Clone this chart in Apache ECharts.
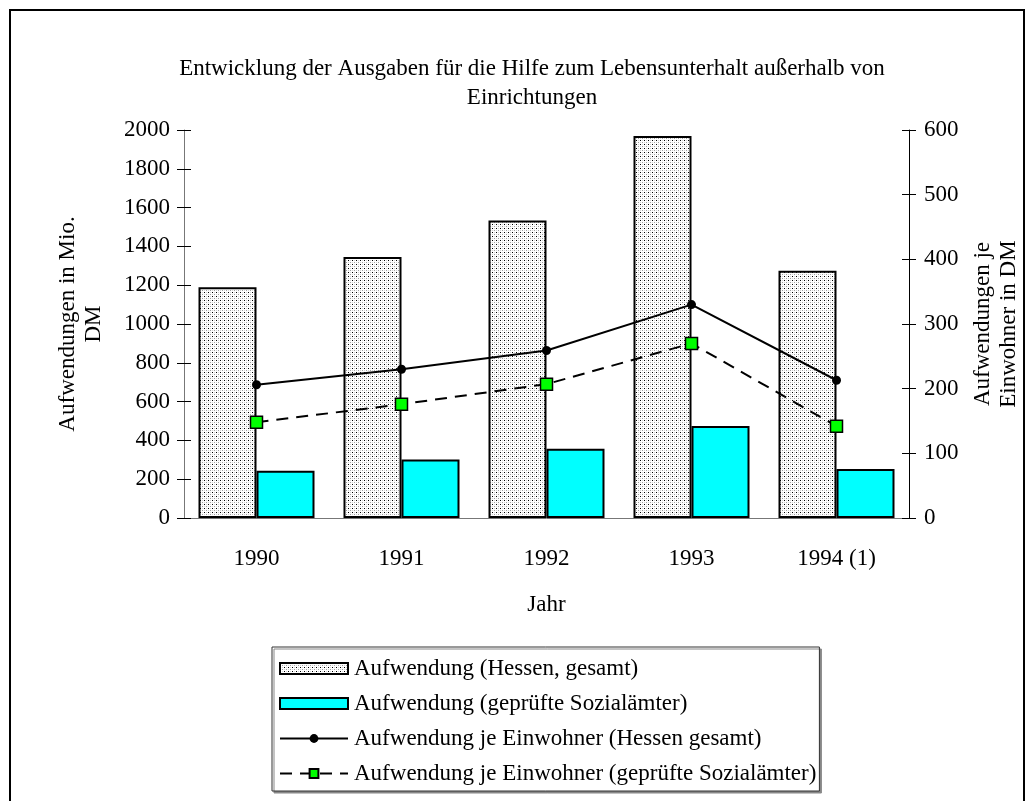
<!DOCTYPE html>
<html>
<head>
<meta charset="utf-8">
<script src="https://cdn.jsdelivr.net/npm/echarts@6/dist/echarts.min.js"></script>
<style>
  html, body { margin: 0; padding: 0; background: #fff; }
  #chart { width: 1034px; height: 801px; }
</style>
</head>
<body>
<div id="chart"></div>
<script>
// Jahre (Kategorien der x-Achse)
const jahre = ['1990', '1991', '1992', '1993', '1994 (1)'];

// Aufwendungen in Mio. DM (linke Achse)
const aufwendungHessen = [1190, 1345, 1533, 1969, 1274];
const aufwendungSozialaemter = [244, 301, 357, 474, 252];

// Aufwendungen je Einwohner in DM (rechte Achse)
const jeEinwohnerHessen = [206, 230, 259, 330, 213];
const jeEinwohnerSozialaemter = [148, 176, 207, 270, 142];

const seriesNames = [
  'Aufwendung (Hessen, gesamt)',
  'Aufwendung (geprüfte Sozialämter)',
  'Aufwendung je Einwohner (Hessen gesamt)',
  'Aufwendung je Einwohner (geprüfte Sozialämter)'
];

const FONT = "'Liberation Serif', 'Times New Roman', serif";
const FS = 23;

// Punktraster als Füllmuster der Gesamt-Balken
function makeStipple() {
  const c = document.createElement('canvas');
  c.width = 4; c.height = 4;
  const g = c.getContext('2d');
  g.fillStyle = '#ffffff';
  g.fillRect(0, 0, 4, 4);
  g.fillStyle = '#000000';
  g.fillRect(0, 0, 1, 1);
  g.fillStyle = '#a0a0a0';
  g.fillRect(2, 2, 1, 1);
  g.fillStyle = '#d4d4d4';
  g.fillRect(2, 0, 1, 1);
  g.fillRect(0, 2, 1, 1);
  return c;
}
const stipple = makeStipple();

const chart = echarts.init(document.getElementById('chart'), null, { renderer: 'canvas' });

const txt = { fontFamily: FONT, fontSize: FS, color: '#000' };
const plain = v => String(v);

chart.setOption({
  backgroundColor: '#fff',
  animation: false,
  title: {
    text: 'Entwicklung der Ausgaben für die Hilfe zum Lebensunterhalt außerhalb von\nEinrichtungen',
    left: 527,
    textAlign: 'center',
    top: 49,
    textStyle: { fontFamily: FONT, fontSize: FS, fontWeight: 'normal', color: '#000', lineHeight: 29 }
  },
  graphic: [{
    type: 'rect',
    shape: { x: 10, y: 10, width: 1014, height: 830 },
    style: { fill: null, stroke: '#000', lineWidth: 2 },
    silent: true
  }],
  legend: {
    orient: 'vertical',
    left: 272,
    top: 647,
    padding: [10, 3, 6, 7],
    itemGap: 12,
    itemWidth: 68,
    itemHeight: 11,
    borderColor: '#333',
    borderWidth: 1,
    backgroundColor: '#fff',
    shadowColor: '#888',
    shadowOffsetX: 2,
    shadowOffsetY: 2,
    shadowBlur: 0,
    textStyle: { fontFamily: FONT, fontSize: FS, color: '#000', padding: [0, 0, 0, 1] },
    data: [
      { name: seriesNames[0], icon: 'rect' },
      { name: seriesNames[1], icon: 'rect' },
      { name: seriesNames[2] },
      { name: seriesNames[3] }
    ]
  },
  grid: { left: 184, right: 125, top: 130, bottom: 283, containLabel: false },
  xAxis: [{
    type: 'category',
    data: jahre,
    boundaryGap: true,
    name: 'Jahr',
    nameLocation: 'middle',
    nameGap: 75,
    nameTextStyle: txt,
    axisLine: { lineStyle: { color: '#777', width: 1 } },
    axisTick: { length: 7, lineStyle: { color: '#555' } },
    axisLabel: Object.assign({ margin: 29 }, txt),
    splitLine: { show: false }
  }, {
    type: 'category',
    data: jahre,
    position: 'bottom',
    axisLine: { show: false },
    axisTick: { inside: true, length: 7, lineStyle: { color: '#555' } },
    axisLabel: { show: false },
    splitLine: { show: false }
  }],
  yAxis: [{
    type: 'value',
    position: 'left',
    min: 0, max: 2000, interval: 200,
    name: 'Aufwendungen in Mio.\nDM',
    nameLocation: 'middle',
    nameRotate: 90,
    nameGap: 77,
    nameTextStyle: Object.assign({ lineHeight: 26 }, txt),
    axisLine: { show: true, lineStyle: { color: '#777', width: 1 } },
    axisTick: { show: true, length: 7, lineStyle: { color: '#000' } },
    axisLabel: Object.assign({ margin: 14, formatter: plain }, txt),
    splitLine: { show: false }
  }, {
    type: 'value',
    position: 'right',
    min: 0, max: 600, interval: 100,
    name: 'Aufwendungen je\nEinwohner in DM',
    nameLocation: 'middle',
    nameRotate: 90,
    nameGap: 61,
    nameTextStyle: Object.assign({ lineHeight: 26 }, txt),
    axisLine: { show: true, lineStyle: { color: '#000', width: 1 } },
    axisTick: { show: true, length: 7, lineStyle: { color: '#000' } },
    axisLabel: Object.assign({ margin: 15, formatter: plain }, txt),
    splitLine: { show: false }
  }, {
    type: 'value',
    position: 'left',
    min: 0, max: 2000, interval: 200,
    axisLine: { show: false },
    axisTick: { show: true, inside: true, length: 7, lineStyle: { color: '#000' } },
    axisLabel: { show: false },
    splitLine: { show: false }
  }, {
    type: 'value',
    position: 'right',
    min: 0, max: 600, interval: 100,
    axisLine: { show: false },
    axisTick: { show: true, inside: true, length: 7, lineStyle: { color: '#000' } },
    axisLabel: { show: false },
    splitLine: { show: false }
  }],
  series: [{
    name: seriesNames[0],
    type: 'bar',
    xAxisIndex: 0,
    yAxisIndex: 0,
    data: aufwendungHessen,
    barWidth: 58,
    barGap: '0%',
    itemStyle: { color: { image: stipple, repeat: 'repeat' }, borderColor: '#000', borderWidth: 2 }
  }, {
    name: seriesNames[1],
    type: 'bar',
    xAxisIndex: 0,
    yAxisIndex: 0,
    data: aufwendungSozialaemter,
    barWidth: 58,
    barGap: '0%',
    itemStyle: { color: '#00ffff', borderColor: '#000', borderWidth: 2 }
  }, {
    name: seriesNames[2],
    type: 'line',
    xAxisIndex: 0,
    yAxisIndex: 1,
    data: jeEinwohnerHessen,
    symbol: 'circle',
    symbolSize: 9,
    lineStyle: { color: '#000', width: 2 },
    itemStyle: { color: '#000', borderColor: '#000', borderWidth: 0 },
    z: 5
  }, {
    name: seriesNames[3],
    type: 'line',
    xAxisIndex: 0,
    yAxisIndex: 1,
    data: jeEinwohnerSozialaemter,
    symbol: 'rect',
    symbolSize: 12,
    lineStyle: { color: '#000', width: 2, type: [12, 8] },
    itemStyle: { color: '#00ff00', borderColor: '#000', borderWidth: 1.5 },
    z: 5
  }]
});
</script>
</body>
</html>
